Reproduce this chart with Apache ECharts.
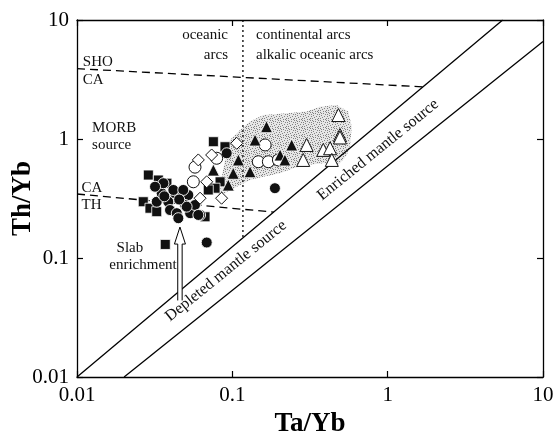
<!DOCTYPE html>
<html><head><meta charset="utf-8">
<script src="https://cdn.jsdelivr.net/npm/echarts/dist/echarts.min.js"></script>
<style>html,body{margin:0;padding:0;background:#fff}#c{width:555px;height:436px}</style>
</head><body><div id="c"></div>
<script>
// ---- data (Ta/Yb, Th/Yb) ----
const xTicks = [0.01, 0.1, 1, 10];
const yTicks = [0.01, 0.1, 1, 10];

const filledSquares = [[0.0288,0.498],[0.0334,0.452],[0.0379,0.425],[0.0267,0.297],[0.0295,0.262],[0.0326,0.245],[0.037,0.13],[0.0667,0.222],[0.0755,0.949],[0.0897,0.861],[0.0834,0.437],[0.0774,0.386],[0.0700,0.373]];
const filledCircles = [[0.0326,0.297],[0.0351,0.35],[0.0387,0.297],[0.0428,0.35],[0.0472,0.36],[0.0521,0.338],[0.0397,0.253],[0.0439,0.238],[0.0449,0.216],[0.0535,0.238],[0.0496,0.279],[0.0575,0.279],[0.062,0.23],[0.036,0.425],[0.0318,0.397],[0.0417,0.373],[0.0483,0.373],[0.0508,0.27],[0.0604,0.23],[0.092,0.759],[0.188,0.386],[0.0684,0.135],[0.0365,0.33],[0.0455,0.31]];
const openCircles = [[0.0575,0.58],[0.0793,0.689],[0.0561,0.437],[0.1626,0.891],[0.147,0.644],[0.1706,0.644],[0.198,0.667]];
const openDiamonds = [[0.1067,0.92],[0.0604,0.667],[0.0684,0.437],[0.062,0.318],[0.0853,0.318],[0.0736,0.734]];
const filledTriangles = [[0.166,1.27],[0.14,0.98],[0.241,0.891],[0.203,0.734],[0.218,0.667],[0.1094,0.667],[0.1014,0.515],[0.13,0.531],[0.0942,0.41],[0.0755,0.548]];
const openTriangles = [[0.482,1.59],[0.301,0.891],[0.286,0.667],[0.385,0.81],[0.426,0.836],[0.493,1.08],[0.493,1.03],[0.437,0.667]];

const shadedRegion = [[0.112,1.19],[0.130,1.40],[0.158,1.59],[0.213,1.64],[0.301,1.70],[0.367,1.87],[0.470,1.93],[0.558,1.70],[0.587,1.27],[0.573,0.89],[0.546,0.734],[0.482,0.605],[0.386,0.625],[0.301,0.605],[0.247,0.568],[0.203,0.515],[0.158,0.482],[0.130,0.452],[0.107,0.397],[0.0897,0.35],[0.0813,0.338],[0.086,0.498],[0.091,0.734],[0.0966,0.98]];

const shoCaLine = [[0.01,3.9],[1.69,2.74]];
const caThLine = [[0.01,0.345],[0.185,0.243]];
const arcDivider = [[0.117,10],[0.117,0.147]];
const depletedLine = [[0.01,0.01],[5.5,10]];
const enrichedLine = [[0.0201,0.01],[10,6.6]];
const slabArrow = [[0.046,0.044],[0.046,0.182]];

const annotations = [
  ['SHO',0.0109,4.44,'left',0],
  ['CA',0.0109,3.13,'left',0],
  ['oceanic',0.0938,7.48,'right',0],
  ['arcs',0.0938,5.08,'right',0],
  ['continental arcs',0.142,7.48,'left',0],
  ['alkalic oceanic arcs',0.142,5.08,'left',0],
  ['MORB',0.0125,1.237,'left',0],
  ['source',0.0125,0.89,'left',0],
  ['CA',0.0107,0.387,'left',0],
  ['TH',0.0107,0.279,'left',0],
  ['Slab',0.0219,0.121,'center',0],
  ['enrichment',0.0266,0.0873,'center',0],
  ['Depleted mantle source',0.0911,0.0778,'center',39],
  ['Enriched mantle source',0.867,0.81,'center',39]
];

const FONT = '"Liberation Serif", "Times New Roman", serif';

// stipple pattern (fixed, irregular dot layout)
const pc = document.createElement('canvas');
pc.width = 8; pc.height = 8;
const g = pc.getContext('2d');
g.fillStyle = '#e6e6e6'; g.fillRect(0,0,8,8);
g.fillStyle = '#828282';
[[0,0],[3,1],[6,0],[1,3],[5,2],[7,4],[2,5],[4,4],[0,6],[6,6],[3,7],[5,7],[1,1],[7,2]].forEach(d=>g.fillRect(d[0],d[1],1,1));

const chart = echarts.init(document.getElementById('c'), null, {renderer:'canvas'});

const lineSeries = (data, type, width) => ({
  type:'line', data, showSymbol:false, symbol:'none', silent:true, z:3,
  lineStyle:{color:'#000', width, type}
});
const scatter = (data, symbol, size, fill, stroke, bw, z) => ({
  type:'scatter', data, symbol, symbolSize:size, z,
  itemStyle:{color:fill, borderColor:stroke, borderWidth:bw, opacity:1}
});

const axisCommon = {
  type:'log', logBase:10, min:0.01, max:10,
  axisLine:{show:true, lineStyle:{color:'#000', width:1.3}},
  axisTick:{show:true, inside:true, length:6, lineStyle:{color:'#000', width:1.2}},
  minorTick:{show:false}, splitLine:{show:false}
};

chart.setOption({
  animation:false,
  backgroundColor:'#fff',
  grid:{left:77, right:12, top:20, bottom:59, containLabel:false, outerBoundsMode:'none'},
  xAxis:[
    Object.assign({}, axisCommon, {position:'bottom',
      axisLabel:{color:'#000', fontFamily:FONT, fontSize:21, margin:8, formatter:v=>String(+(+v).toPrecision(3))},
      name:'Ta/Yb', nameLocation:'middle', nameGap:34, nameMoveOverlap:false,
      nameTextStyle:{color:'#000', fontFamily:FONT, fontWeight:'bold', fontSize:27}}),
    Object.assign({}, axisCommon, {position:'top', axisLabel:{show:false}})
  ],
  yAxis:[
    Object.assign({}, axisCommon, {position:'left',
      axisLabel:{color:'#000', fontFamily:FONT, fontSize:21, margin:8, formatter:v=>String(+(+v).toPrecision(3))},
      name:'Th/Yb', nameLocation:'middle', nameGap:40, nameMoveOverlap:false,
      nameTextStyle:{color:'#000', fontFamily:FONT, fontWeight:'bold', fontSize:27}}),
    Object.assign({}, axisCommon, {position:'right', axisLabel:{show:false}})
  ],
  series:[
    {type:'custom', z:1, silent:true, data:[shadedRegion[0]],
     renderItem:(params, api)=>({type:'polygon', shape:{points:shadedRegion.map(p=>api.coord(p))},
       style:{fill:{image:pc, repeat:'repeat'}, stroke:null}})},
    lineSeries(depletedLine,'solid',1.3),
    lineSeries(enrichedLine,'solid',1.3),
    lineSeries(shoCaLine,[8,5],1.3),
    lineSeries(caThLine,[8,5],1.3),
    lineSeries(arcDivider,[2,3],1.3),
    {type:'custom', z:4, silent:true, data:[slabArrow[0]],
     renderItem:(params, api)=>{
       const b = api.coord(slabArrow[0]), t = api.coord(slabArrow[1]);
       const sw = 2.2, hw = 5.5, hl = 17;
       const pts = [[b[0]-sw,b[1]],[b[0]-sw,t[1]+hl],[b[0]-hw,t[1]+hl],[t[0],t[1]],[b[0]+hw,t[1]+hl],[b[0]+sw,t[1]+hl],[b[0]+sw,b[1]]];
       return {type:'group', children:[
         {type:'polygon', shape:{points:pts}, style:{fill:'#fff', stroke:null}},
         {type:'polyline', shape:{points:pts}, style:{fill:null, stroke:'#000', lineWidth:1}}
       ]};
     }},
    scatter(filledSquares,'rect',10,'#111','#fff',0.8,10),
    scatter(filledCircles,'circle',11,'#111','#fff',0.9,11),
    scatter(openCircles,'circle',12,'#fff','#111',1,12),
    scatter(openDiamonds,'diamond',12,'#fff','#111',1,12),
    scatter(filledTriangles,'triangle',12,'#111','#fff',0.8,12),
    scatter(openTriangles,'triangle',13,'#fff','#111',1,12),
    {type:'custom', z:20, silent:true, data:annotations.map(a=>[a[1],a[2]]),
     renderItem:(params, api)=>{
       const a = annotations[params.dataIndex];
       const p = api.coord([a[1],a[2]]);
       return {type:'text', x:p[0], y:p[1], rotation:a[4]*Math.PI/180,
         style:{text:a[0], font:(a[4]?'16px ':'15px ')+FONT, fill:'#111', align:a[3], verticalAlign:'middle'}};
     }}
  ]
});
</script>
</body></html>
